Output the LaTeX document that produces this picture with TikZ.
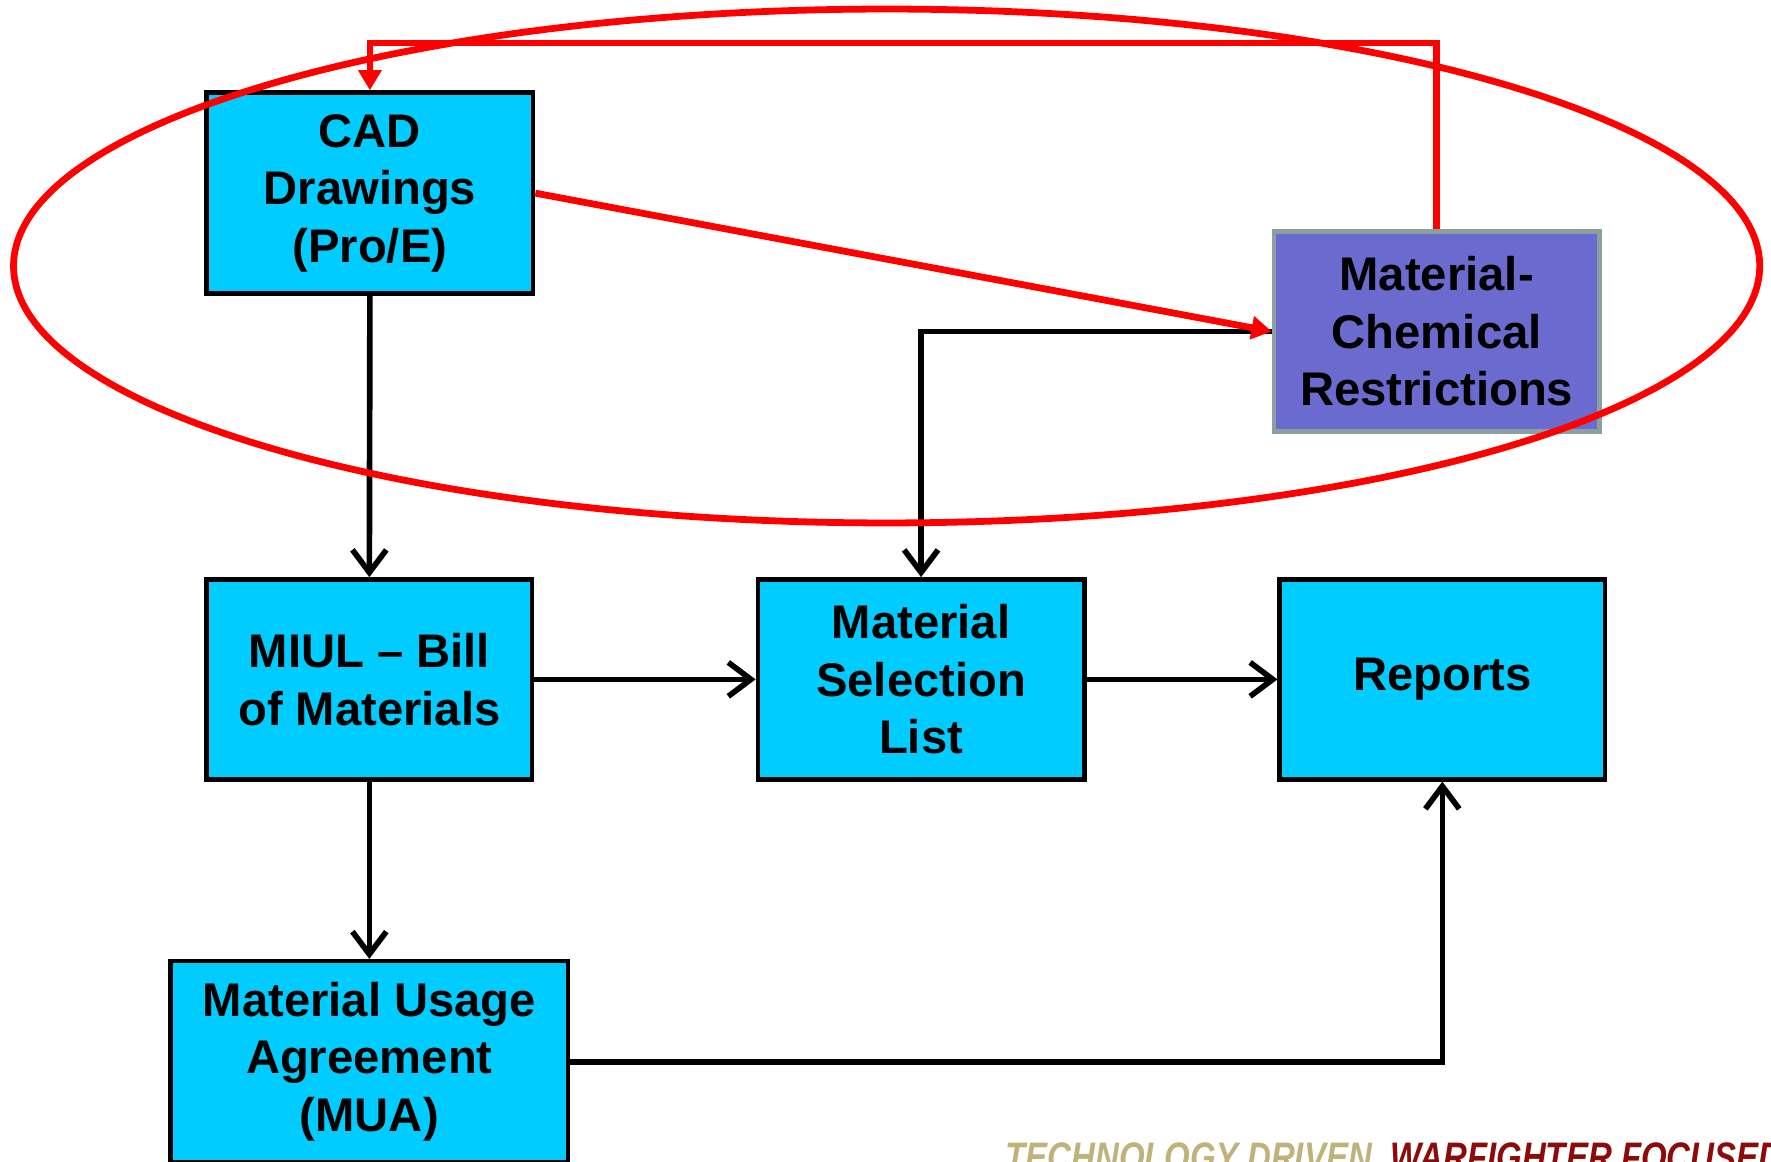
\documentclass[tikz,border=0pt]{standalone}
\usepackage{fontspec}
\usepackage{graphicx}
\setmainfont{Liberation Sans}
\usetikzlibrary{arrows.meta}
\definecolor{boxcyan}{RGB}{0,204,255}
\definecolor{chemfill}{RGB}{107,107,207}
\definecolor{chemborder}{RGB}{138,160,160}
\definecolor{ftan}{RGB}{191,178,122}
\definecolor{fred}{RGB}{139,10,10}
\definecolor{loopred}{RGB}{255,0,0}
\begin{document}
\begin{tikzpicture}[x=1pt,y=-1pt,
  box/.style={draw=black, line width=4pt, fill=boxcyan, align=center, inner sep=0pt,
    font=\fontsize{41.8}{51}\selectfont\bfseries, text=black},
  chembox/.style={box, draw=chemborder, line width=4pt, fill=chemfill},
  flow/.style={line width=5pt, -{Straight Barb[length=20pt,width=30pt,line width=5pt]}},
  redflow/.style={loopred, line width=6pt, -{Triangle[length=18pt,width=20pt]}},
]
\useasboundingbox (0,0) rectangle (1568,1028);
\clip (0,0) rectangle (1568,1028);

\node[box, minimum width=289pt, minimum height=178pt] (cad) at (327.5,171) {CAD\\Drawings\\(Pro/E)};
\node[chembox, minimum width=288pt, minimum height=177pt] (chem) at (1272,293.5) {Material-\\Chemical\\Restrictions};
\node[box, minimum width=288pt, minimum height=177pt] (miul) at (327,601.5) {MIUL -- Bill\\of Materials};
\node[box, minimum width=289pt, minimum height=177pt] (msl) at (815.5,601.5) {Material\\Selection\\List};
\node[box, minimum width=288pt, minimum height=177pt] (rep) at (1277,601.5) {Reports};
\node[box, minimum width=352pt, minimum height=178pt] (mua) at (327,940) {Material Usage\\Agreement\\(MUA)};

\draw[flow] (cad.south) -- (miul.north);
\draw[flow] (miul.east) -- (msl.west);
\draw[flow] (msl.east) -- (rep.west);
\draw[flow] (miul.south) -- (mua.north);
\draw[flow] (mua.east) -- (mua.east -| rep.south) -- (rep.south);
\draw[flow] (chem.west) -- (chem.west -| msl.north) -- (msl.north);

\coordinate (looptop) at (800,38);
\draw[redflow] (cad.east) -- (chem.west);
\draw[redflow] (chem.north) -- (chem.north |- looptop) -- (cad.north |- looptop) -- (cad.north);

\draw[loopred, line width=6pt] (785,235.5) ellipse [x radius=773pt, y radius=227.5pt];

\node[anchor=base west, inner sep=0pt, font=\fontsize{36.5}{36.5}\selectfont\bfseries\itshape] (footer) at (890,1037)
  {\scalebox{0.8}[1]{\textcolor{ftan}{TECHNOLOGY DRIVEN.} \textcolor{fred}{WARFIGHTER FOCUSED.}}};
\end{tikzpicture}
\end{document}
